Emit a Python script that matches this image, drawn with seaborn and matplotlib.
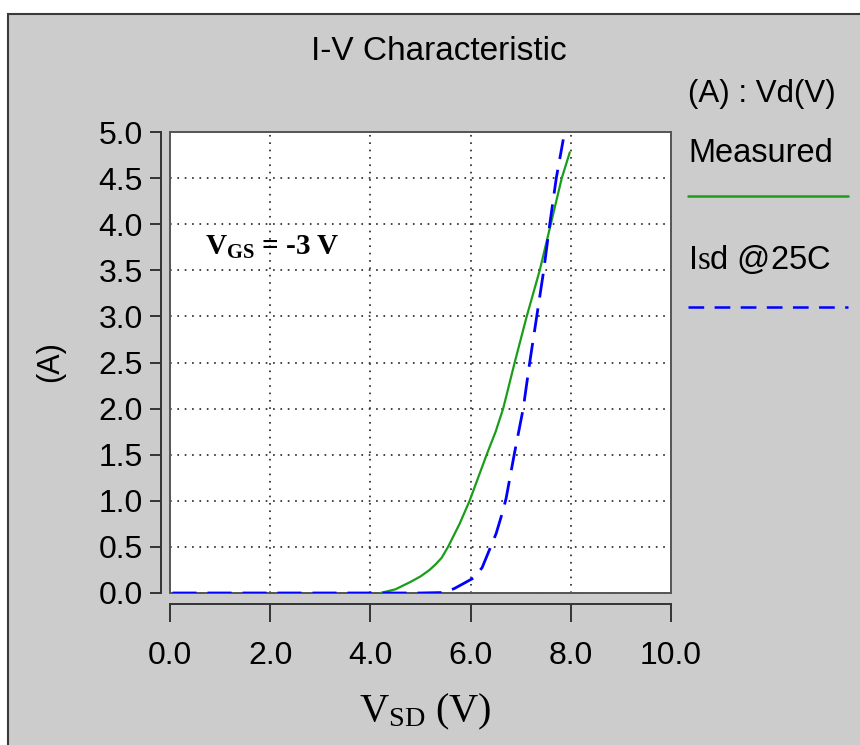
import matplotlib
matplotlib.use("Agg")
import numpy as np
import pandas as pd
import matplotlib.pyplot as plt
import seaborn as sns
from matplotlib.lines import Line2D
from matplotlib.patches import Rectangle

# ---------------- data ----------------
measured_v = [4.20, 4.50, 4.80, 5.00, 5.18, 5.30, 5.42, 5.55, 5.78, 5.98, 6.15, 6.32, 6.50,
              6.65, 6.88, 7.12, 7.38, 7.60, 7.82, 7.98]
measured_i = [0.00, 0.04, 0.12, 0.18, 0.25, 0.31, 0.38, 0.50, 0.75, 1.00, 1.25, 1.50, 1.75,
              2.00, 2.50, 3.00, 3.50, 4.00, 4.50, 4.78]

isd_v = [0.05, 1.0, 2.0, 3.0, 4.0, 5.0, 5.45, 5.67, 5.85, 6.06, 6.23, 6.40, 6.51,
         6.65, 6.71, 6.87, 7.05, 7.18, 7.32, 7.46, 7.58, 7.71, 7.85]
isd_i = [0.0, 0.0, 0.0, 0.0, 0.0, 0.0, 0.005, 0.047, 0.10, 0.163, 0.275, 0.50, 0.645,
         0.90, 1.03, 1.50, 2.00, 2.50, 3.00, 3.50, 4.00, 4.50, 4.92]

x_ticks = [0, 2, 4, 6, 8, 10]
x_tick_labels = ["0.0", "2.0", "4.0", "6.0", "8.0", "10.0"]
y_ticks = [0.0, 0.5, 1.0, 1.5, 2.0, 2.5, 3.0, 3.5, 4.0, 4.5, 5.0]
y_tick_labels = ["0.0", "0.5", "1.0", "1.5", "2.0", "2.5", "3.0", "3.5", "4.0", "4.5", "5.0"]
series_names = ["Measured", "Isd @25C"]
title_text = "I-V Characteristic"
legend_title = "(A) : Vd(V)"

# ---------------- style ----------------
W, H, DPI = 860, 745, 100
def fx(px):
    return px / W
def fy(py):
    return 1 - py / H

sns.set_style("white")
plt.rcParams["font.family"] = ["Liberation Sans", "DejaVu Sans"]
plt.rcParams["text.color"] = "black"
plt.rcParams["xtick.color"] = "black"
plt.rcParams["ytick.color"] = "black"
plt.rcParams["axes.labelcolor"] = "black"
plt.rcParams["lines.scale_dashes"] = False
plt.rcParams["mathtext.fontset"] = "custom"
plt.rcParams["mathtext.rm"] = "Liberation Serif"
plt.rcParams["mathtext.it"] = "Liberation Serif:italic"
plt.rcParams["mathtext.bf"] = "Liberation Serif:bold"

GREEN = "#1a9e1a"
BLUE = "#0000ff"
BG = "#cccccc"

fig = plt.figure(figsize=(W / DPI, H / DPI), dpi=DPI)
fig.patch.set_facecolor("white")
fig.add_artist(Rectangle((fx(8), -0.02), 1.05 - fx(8), fy(14) + 0.02,
                         transform=fig.transFigure, facecolor=BG,
                         edgecolor="#3a3a3a", lw=1.5, zorder=0))

ax = fig.add_axes([fx(170), fy(593), fx(671) - fx(170), (593 - 132) / H])
ax.set_facecolor("white")

df_meas = pd.DataFrame({"V": measured_v, "I": measured_i, "series": series_names[0]})
df_isd = pd.DataFrame({"V": isd_v, "I": isd_i, "series": series_names[1]})

sns.lineplot(data=df_meas, x="V", y="I", ax=ax, color=GREEN, lw=1.6,
             sort=False, legend=False, zorder=4)
sns.lineplot(data=df_isd, x="V", y="I", ax=ax, color=BLUE, lw=2.0,
             sort=False, legend=False, zorder=5)
ax.lines[-1].set_dashes([17.3, 7.9])

ax.set_xlim(0, 10)
ax.set_ylim(0, 5)
ax.set_xticks(x_ticks)
ax.set_xticklabels(x_tick_labels)
ax.set_yticks(y_ticks)
ax.set_yticklabels(y_tick_labels)
ax.set_xlabel("")
ax.set_ylabel("")

# grid
ax.set_axisbelow(True)
ax.grid(True, color="#333333", lw=1.3, linestyle=(0, (1.2, 4.1)))

# spines: separate axis lines for left & bottom, box around plot
for s in ["top", "right"]:
    ax.spines[s].set_visible(True)
    ax.spines[s].set_color("#555555")
    ax.spines[s].set_linewidth(1.4)
ax.spines["left"].set_position(("outward", 6.5))
ax.spines["bottom"].set_position(("outward", 7.9))
for s in ["left", "bottom"]:
    ax.spines[s].set_color("#333333")
    ax.spines[s].set_linewidth(1.4)
ax.add_line(Line2D([0, 0], [0, 1], transform=ax.transAxes, color="#555555",
                   lw=1.4, clip_on=False, zorder=6))
ax.add_line(Line2D([0, 1], [0, 0], transform=ax.transAxes, color="#555555",
                   lw=1.4, clip_on=False, zorder=3))

ax.tick_params(axis="x", direction="out", length=13, width=1.4, color="#333333",
               labelsize=23, pad=14, bottom=True, labelcolor="black")
ax.tick_params(axis="y", direction="out", length=8, width=1.4, color="#333333",
               labelsize=23, pad=5, left=True, labelcolor="black")

# annotation
fig.text(fx(205), fy(255), r"$\mathbf{V_{GS}}$ = -3 V", family="Liberation Serif",
         weight="bold", size=21, va="baseline", ha="left", color="black")

# title & axis labels
fig.text(fx(439), fy(51), title_text, ha="center", va="center", size=24, color="black")
fig.text(fx(50), fy(362), "(A)", rotation=90, ha="center", va="center", size=22,
         color="black")
fig.text(fx(425), fy(721), r"$\mathrm{V_{SD}}$ (V)", family="Liberation Serif",
         size=29, ha="center", va="baseline", color="black")

# legend (drawn at the right side)
fig.text(fx(688), fy(94), legend_title, va="center", ha="left", size=22.5, color="black")
fig.text(fx(688), fy(153), series_names[0], va="center", ha="left", size=23.5,
         color="black")
fig.add_artist(Line2D([fx(688), fx(848)], [fy(196), fy(196)], transform=fig.transFigure,
                      color=GREEN, lw=1.8))
fig.text(fx(688), fy(260), r"I$\mathrm{s}$d @25C", va="center", ha="left",
         size=23.5, color="black")
leg_blue = Line2D([fx(688), fx(848)], [fy(307), fy(307)], transform=fig.transFigure,
                  color=BLUE, lw=1.8)
leg_blue.set_dashes([11.3, 7.5])
fig.add_artist(leg_blue)

fig.savefig("out.png", dpi=DPI, facecolor=fig.get_facecolor())
